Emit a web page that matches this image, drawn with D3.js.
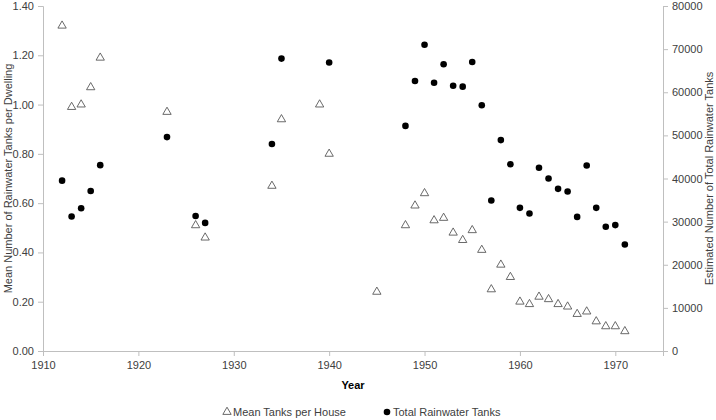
<!DOCTYPE html>
<html>
<head>
<meta charset="utf-8">
<script src="https://cdn.jsdelivr.net/npm/d3@7"></script>
<style>
  body { margin: 0; background: #fff; }
  text { font-family: "Liberation Sans", Arial, sans-serif; }
</style>
</head>
<body>
<div id="chart"></div>
<script>
const MARGIN = { TOP: 6, BOTTOM: 69, LEFT: 43, RIGHT: 53 }
const W = 716, H = 420
const WIDTH = W - MARGIN.LEFT - MARGIN.RIGHT
const HEIGHT = H - MARGIN.TOP - MARGIN.BOTTOM
const FONT = '"Liberation Sans", Arial, sans-serif'

// Mean tanks per house (left axis)
const meanYears = [1912, 1913, 1914, 1915, 1916, 1923, 1926, 1927, 1934, 1935, 1939, 1940, 1945,
  1948, 1949, 1950, 1951, 1952, 1953, 1954, 1955, 1956, 1957, 1958, 1959, 1960, 1961, 1962,
  1963, 1964, 1965, 1966, 1967, 1968, 1969, 1970, 1971]
const meanValues = [1.32, 0.99, 1.00, 1.07, 1.19, 0.97, 0.51, 0.46, 0.67, 0.94, 1.00, 0.80, 0.24,
  0.51, 0.59, 0.64, 0.53, 0.54, 0.48, 0.45, 0.49, 0.41, 0.25, 0.35, 0.30, 0.20, 0.19, 0.22,
  0.21, 0.19, 0.18, 0.15, 0.16, 0.12, 0.10, 0.10, 0.08]

// Total rainwater tanks (right axis)
const totalYears = [1912, 1913, 1914, 1915, 1916, 1923, 1926, 1927, 1934, 1935, 1940,
  1948, 1949, 1950, 1951, 1952, 1953, 1954, 1955, 1956, 1957, 1958, 1959, 1960, 1961, 1962,
  1963, 1964, 1965, 1966, 1967, 1968, 1969, 1970, 1971]
const totalValues = [39500, 31200, 33100, 37100, 43100, 49600, 31300, 29700, 48000, 67800, 66900,
  52200, 62600, 71000, 62200, 66500, 61500, 61300, 67000, 57000, 34900, 48900, 43300, 33200, 31900, 42500,
  40000, 37600, 37000, 31100, 43000, 33200, 28800, 29200, 24700]

const xTicks = [1910, 1920, 1930, 1940, 1950, 1960, 1970]
const leftTicks = [0, 0.2, 0.4, 0.6, 0.8, 1.0, 1.2, 1.4]
const rightTicks = [0, 10000, 20000, 30000, 40000, 50000, 60000, 70000, 80000]

const AXIS_COLOR = "#bfbfbf"
const TEXT_COLOR = "#404040"

const svg = d3.select("#chart").append("svg")
  .attr("width", W)
  .attr("height", H)

const g = svg.append("g")
  .attr("transform", `translate(${MARGIN.LEFT}, ${MARGIN.TOP})`)

const x = d3.scaleLinear().domain([1910, 1975]).range([0, WIDTH])
const yL = d3.scaleLinear().domain([0, 1.4]).range([HEIGHT, 0])
const yR = d3.scaleLinear().domain([0, 80000]).range([HEIGHT, 0])

function styleAxis(sel) {
  sel.select(".domain").attr("stroke", AXIS_COLOR)
  sel.selectAll(".tick line").attr("stroke", AXIS_COLOR)
  sel.selectAll(".tick text").attr("fill", TEXT_COLOR).attr("font-size", 11)
    .style("font-family", FONT)
}

g.append("g")
  .attr("transform", `translate(0, ${HEIGHT})`)
  .call(d3.axisBottom(x).tickValues(xTicks).tickFormat(d3.format("d")).tickSizeOuter(0).tickSize(5).tickPadding(5))
  .call(styleAxis)

g.append("g")
  .call(d3.axisLeft(yL).tickValues(leftTicks).tickFormat(d3.format(".2f")).tickSizeOuter(0).tickSize(5).tickPadding(4))
  .call(styleAxis)

g.append("g")
  .attr("transform", `translate(${WIDTH}, 0)`)
  .call(d3.axisRight(yR).tickValues(rightTicks).tickFormat(d3.format("d")).tickSizeOuter(0).tickSize(5).tickPadding(4))
  .call(styleAxis)

// axis titles
g.append("text")
  .attr("x", WIDTH / 2)
  .attr("y", HEIGHT + 38)
  .attr("text-anchor", "middle")
  .attr("font-size", 11)
  .attr("font-weight", "bold")
  .attr("fill", "#000")
  .text("Year")

svg.append("text")
  .attr("transform", `translate(12, ${MARGIN.TOP + HEIGHT / 2}) rotate(-90)`)
  .attr("text-anchor", "middle")
  .attr("font-size", 11)
  .attr("fill", TEXT_COLOR)
  .text("Mean Number of Rainwater Tanks per Dwelling")

svg.append("text")
  .attr("transform", `translate(713, ${MARGIN.TOP + HEIGHT / 2}) rotate(-90)`)
  .attr("text-anchor", "middle")
  .attr("font-size", 11)
  .attr("fill", TEXT_COLOR)
  .text("Estimated Number of Total Rainwater Tanks")

// points
const tri = d3.symbol().type(d3.symbolTriangle).size(30)

g.selectAll(".mean")
  .data(meanValues)
  .enter()
  .append("path")
  .attr("class", "mean")
  .attr("d", tri)
  .attr("transform", (d, i) => `translate(${x(meanYears[i])}, ${yL(d)})`)
  .attr("fill", "#fff")
  .attr("stroke", "#595959")
  .attr("stroke-width", 0.9)

g.selectAll(".total")
  .data(totalValues)
  .enter()
  .append("circle")
  .attr("class", "total")
  .attr("cx", (d, i) => x(totalYears[i]))
  .attr("cy", d => yR(d))
  .attr("r", 3.3)
  .attr("fill", "#000")

// legend
const legend = svg.append("g").attr("transform", `translate(0, 412)`)

legend.append("path")
  .attr("d", tri)
  .attr("transform", "translate(227, 0)")
  .attr("fill", "#fff")
  .attr("stroke", "#595959")
  .attr("stroke-width", 0.9)

legend.append("text")
  .attr("x", 233)
  .attr("y", 4)
  .attr("font-size", 11)
  .attr("fill", TEXT_COLOR)
  .text("Mean Tanks per House")

legend.append("circle")
  .attr("cx", 387)
  .attr("cy", 0)
  .attr("r", 3.3)
  .attr("fill", "#000")

legend.append("text")
  .attr("x", 393)
  .attr("y", 4)
  .attr("font-size", 11)
  .attr("fill", TEXT_COLOR)
  .text("Total Rainwater Tanks")
</script>
</body>
</html>
